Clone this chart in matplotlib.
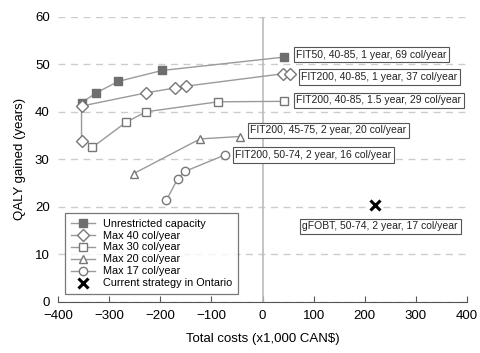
import matplotlib
matplotlib.use("Agg")
import matplotlib.pyplot as plt

plt.rcParams['font.family'] = ['Liberation Sans', 'DejaVu Sans']

# Total costs (x1,000 CAN$) and QALY gained (years) per strategy set
unres_x = [-354, -325, -282, -196, 42]
unres_y = [41.9, 44.0, 46.4, 48.7, 51.5]
max40_x = [-354, -354, -227, -172, -149, 40, 53]
max40_y = [33.8, 41.2, 44.0, 45.0, 45.4, 48.0, 48.0]
max30_x = [-333, -267, -228, -87, 42]
max30_y = [32.5, 37.8, 40.0, 42.1, 42.2]
max20_x = [-252, -122, -45]
max20_y = [27.0, 34.3, 34.8]
max17_x = [-188, -166, -151, -74]
max17_y = [21.4, 25.9, 27.5, 30.9]
ontario_x = [220]
ontario_y = [20.3]

labels = [
    "FIT50, 40-85, 1 year, 69 col/year",
    "FIT200, 40-85, 1 year, 37 col/year",
    "FIT200, 40-85, 1.5 year, 29 col/year",
    "FIT200, 45-75, 2 year, 20 col/year",
    "FIT200, 50-74, 2 year, 16 col/year",
    "gFOBT, 50-74, 2 year, 17 col/year",
]
label_x = [66, 76, 66, -24, -53, 78]
label_y = [52.0, 47.3, 42.4, 36.1, 30.9, 15.9]

line_c = '#9a9a9a'
mark_c = '#777777'

fig = plt.figure(figsize=(4.81, 3.53), dpi=100)
ax = fig.add_axes([0.1206, 0.1445, 0.8504, 0.8082])

ax.plot(unres_x, unres_y, color=line_c, lw=1, marker='s', ms=5.5,
        mfc='#6e6e6e', mec='#6e6e6e', label='Unrestricted capacity', zorder=3)
ax.plot(max40_x, max40_y, color=line_c, lw=1, marker='D', ms=6,
        mfc='white', mec=mark_c, label='Max 40 col/year', zorder=3)
ax.plot(max30_x, max30_y, color=line_c, lw=1, marker='s', ms=5.5,
        mfc='white', mec=mark_c, label='Max 30 col/year', zorder=3)
ax.plot(max20_x, max20_y, color=line_c, lw=1, marker='^', ms=6,
        mfc='white', mec=mark_c, label='Max 20 col/year', zorder=3)
ax.plot(max17_x, max17_y, color=line_c, lw=1, marker='o', ms=6,
        mfc='white', mec=mark_c, label='Max 17 col/year', zorder=3)
ax.plot(ontario_x, ontario_y, ls='none', marker='x', ms=7, mew=2.2,
        color='black', label='Current strategy in Ontario', zorder=3)

for txt, lx, ly in zip(labels, label_x, label_y):
    ax.text(lx, ly, txt, fontsize=7.5, ha='left', va='center', color='#222222',
            bbox=dict(boxstyle='square,pad=0.25', fc='white', ec='#555555', lw=0.8),
            zorder=4)

ax.axvline(0, color='#bbbbbb', lw=1.2, zorder=1)
ax.set_xlim(-400, 400)
ax.set_ylim(0, 60)
ax.set_xticks(range(-400, 401, 100))
ax.set_yticks(range(0, 61, 10))
ax.yaxis.grid(True, ls=(0, (5, 4)), color='#cccccc', lw=1)
ax.set_axisbelow(True)
for s in ['top', 'right', 'left']:
    ax.spines[s].set_visible(False)
ax.spines['bottom'].set_color('#555555')
ax.tick_params(axis='x', direction='in', length=4, color='#555555',
               labelsize=9.5, pad=6)
ax.tick_params(axis='y', length=0, labelsize=9.5, pad=6)
ax.set_xlabel('Total costs (x1,000 CAN$)', fontsize=9.5, labelpad=8)
ax.set_ylabel('QALY gained (years)', fontsize=9.5, labelpad=6)

leg = ax.legend(loc='lower left', bbox_to_anchor=(0.005, 0.01), fontsize=7.8,
                frameon=True, fancybox=False, edgecolor='#555555',
                handlelength=2.2, labelspacing=0.18, borderpad=0.5,
                handletextpad=0.8)
leg.get_frame().set_linewidth(0.9)

fig.savefig('out.png', dpi=100)
